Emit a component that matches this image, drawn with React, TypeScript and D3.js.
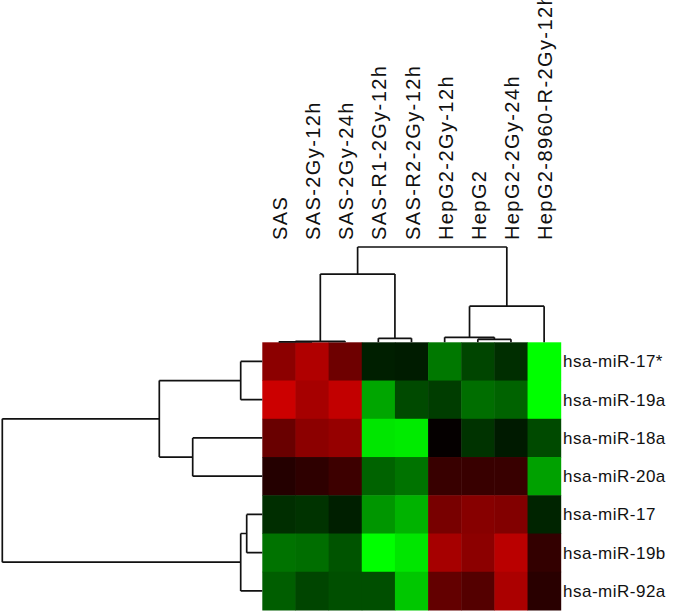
import React from "react";
import * as d3 from "d3";

const colLabels = [
  "SAS",
  "SAS-2Gy-12h",
  "SAS-2Gy-24h",
  "SAS-R1-2Gy-12h",
  "SAS-R2-2Gy-12h",
  "HepG2-2Gy-12h",
  "HepG2",
  "HepG2-2Gy-24h",
  "HepG2-8960-R-2Gy-12h",
];

const rowLabels = [
  "hsa-miR-17*",
  "hsa-miR-19a",
  "hsa-miR-18a",
  "hsa-miR-20a",
  "hsa-miR-17",
  "hsa-miR-19b",
  "hsa-miR-92a",
];

// log-ratio like values: positive = red, negative = green
const miR17star = [0.55, 0.69, 0.43, -0.12, -0.11, -0.47, -0.27, -0.18, -1.0];
const miR19a = [0.8, 0.65, 0.76, -0.65, -0.29, -0.24, -0.43, -0.39, -1.0];
const miR18a = [0.41, 0.55, 0.59, -0.9, -0.92, 0.02, -0.2, -0.1, -0.29];
const miR20a = [0.14, 0.18, 0.24, -0.39, -0.45, 0.22, 0.22, 0.22, -0.63];
const miR17 = [-0.18, -0.2, -0.12, -0.59, -0.7, 0.47, 0.53, 0.51, -0.14];
const miR19b = [-0.45, -0.43, -0.33, -1.0, -0.9, 0.65, 0.55, 0.73, 0.2];
const miR92a = [-0.37, -0.27, -0.31, -0.31, -0.78, 0.39, 0.33, 0.67, 0.16];
const values = [miR17star, miR19a, miR18a, miR20a, miR17, miR19b, miR92a];

type Node = number | { h: number; c: Node[] };

// column clustering (leaf = column index, h = merge height)
const colTree: Node = {
  h: 95,
  c: [
    { h: 68, c: [{ h: 1, c: [{ h: 0.5, c: [0, 1] }, 2] }, { h: 4, c: [3, 4] }] },
    { h: 36, c: [{ h: 5, c: [5, { h: 3, c: [6, 7] }] }, 8] },
  ],
};

// row clustering (leaf = row index)
const rowTree: Node = {
  h: 260,
  c: [
    { h: 103, c: [{ h: 21.6, c: [0, 1] }, { h: 69.6, c: [2, 3] }] },
    { h: 21.6, c: [{ h: 15.6, c: [4, 5] }, 6] },
  ],
};

const W = 685;
const H = 611;
const gridL = 262.3;
const gridR = 560.7;
const gridT = 342.3;
const gridB = 610;

function layout(
  node: Node,
  leafPos: (i: number) => number,
  segs: { a: number; b: number; h1: number; h2: number; kind: "v" | "h" }[]
): { p: number; h: number } {
  if (typeof node === "number") return { p: leafPos(node), h: 0 };
  const kids = node.c.map((k) => layout(k, leafPos, segs));
  kids.forEach((k) => segs.push({ a: k.p, b: k.p, h1: k.h, h2: node.h, kind: "v" }));
  const ps = kids.map((k) => k.p);
  segs.push({ a: Math.min(...ps), b: Math.max(...ps), h1: node.h, h2: node.h, kind: "h" });
  return { p: d3.mean(ps) as number, h: node.h };
}

export default function App() {
  const x = d3.scaleBand<string>().domain(colLabels).range([gridL, gridR]).padding(0);
  const y = d3.scaleBand<string>().domain(rowLabels).range([gridT, gridB]).padding(0);
  const color = d3
    .scaleLinear<string>()
    .domain([-1, 0, 1])
    .range(["#00ff00", "#000000", "#ff0000"])
    .clamp(true);

  const topH = d3.scaleLinear().domain([0, 95]).range([gridT, 247]);
  const leftH = d3.scaleLinear().domain([0, 260]).range([gridL, 2.3]);

  const colSegs: any[] = [];
  layout(colTree, (i) => (x(colLabels[i]) as number) + x.bandwidth() / 2, colSegs);
  const rowSegs: any[] = [];
  layout(rowTree, (i) => (y(rowLabels[i]) as number) + y.bandwidth() / 2, rowSegs);

  const colPath = colSegs
    .map((s) =>
      s.kind === "v"
        ? `M${s.a},${topH(s.h1)}V${topH(s.h2)}`
        : `M${s.a},${topH(s.h1)}H${s.b}`
    )
    .join("");
  const rowPath = rowSegs
    .map((s) =>
      s.kind === "v"
        ? `M${leftH(s.h1)},${s.a}H${leftH(s.h2)}`
        : `M${leftH(s.h1)},${s.a}V${s.b}`
    )
    .join("");

  const font = "'Liberation Sans', Arial, sans-serif";

  return (
    <svg
      width={W}
      height={H}
      style={{ position: "absolute", left: 0, top: 0, background: "#fff" }}
    >
      <rect x={0} y={0} width={W} height={H} fill="#fff" />
      {values.map((row, ri) =>
        row.map((v, ci) => (
          <rect
            key={`${ri}-${ci}`}
            x={x(colLabels[ci])}
            y={y(rowLabels[ri])}
            width={x.bandwidth() + 0.5}
            height={y.bandwidth() + 0.5}
            fill={color(v)}
          />
        ))
      )}
      <path d={colPath} fill="none" stroke="#111" strokeWidth={1.7} />
      <path d={rowPath} fill="none" stroke="#111" strokeWidth={1.7} />
      {colLabels.map((c) => {
        const cx = (x(c) as number) + x.bandwidth() / 2 + 8;
        return (
          <text
            key={c}
            transform={`translate(${cx},240) rotate(-90)`}
            fontFamily={font}
            fontSize={20}
            letterSpacing={1.4}
            fill="#111"
          >
            {c}
          </text>
        );
      })}
      {rowLabels.map((r) => (
        <text
          key={r}
          x={563}
          y={(y(r) as number) + y.bandwidth() / 2 + 6}
          fontFamily={font}
          fontSize={17}
          letterSpacing={0.5}
          fill="#111"
        >
          {r}
        </text>
      ))}
    </svg>
  );
}
